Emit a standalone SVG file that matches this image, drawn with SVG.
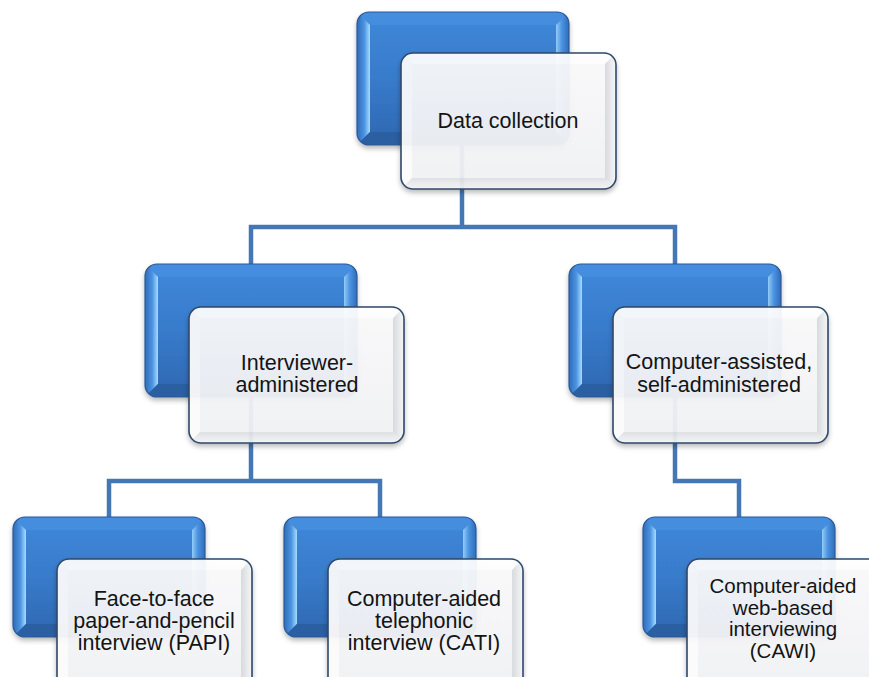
<svg xmlns="http://www.w3.org/2000/svg" xmlns:xlink="http://www.w3.org/1999/xlink" width="869" height="677" viewBox="0 0 869 677">
  <style>
    .lbl { font-family: "Liberation Sans", Arial, sans-serif; font-size: 21.5px; fill: #141414; text-anchor: middle; }
    .lbl.tight { font-size: 20.5px; }
    .link { fill: none; stroke: #4677b5; stroke-width: 4.5; stroke-linejoin: miter; }
  </style>
  <defs>
    <!-- colours for the blue back plates -->
    <linearGradient id="gBack" x1="0" y1="0" x2="0" y2="1">
      <stop offset="0" stop-color="#3f88da"/>
      <stop offset="0.5" stop-color="#387bcb"/>
      <stop offset="1" stop-color="#2d67b0"/>
    </linearGradient>
    <linearGradient id="gBackL" x1="0" y1="0" x2="1" y2="0">
      <stop offset="0" stop-color="#2f6cba"/>
      <stop offset="0.55" stop-color="#4a92e0"/>
      <stop offset="1" stop-color="#a6dcff"/>
    </linearGradient>
    <linearGradient id="gBackR" x1="1" y1="0" x2="0" y2="0">
      <stop offset="0" stop-color="#2f6cba"/>
      <stop offset="0.55" stop-color="#4a92e0"/>
      <stop offset="1" stop-color="#92ccf8"/>
    </linearGradient>
    <!-- colours for the light front cards -->
    <linearGradient id="gFront" x1="0" y1="0" x2="0" y2="1">
      <stop offset="0" stop-color="#fbfbfc"/>
      <stop offset="1" stop-color="#f2f3f5"/>
    </linearGradient>
    <linearGradient id="gFrontR" x1="1" y1="0" x2="0" y2="0">
      <stop offset="0" stop-color="#f7f8f9"/>
      <stop offset="1" stop-color="#d8dbdf"/>
    </linearGradient>
    <linearGradient id="gFrontB" x1="0" y1="1" x2="0" y2="0">
      <stop offset="0" stop-color="#f6f7f8"/>
      <stop offset="1" stop-color="#e0e2e5"/>
    </linearGradient>

    <filter id="shadow" x="-10%" y="-10%" width="125%" height="130%">
      <feDropShadow dx="0" dy="3" stdDeviation="2.5" flood-color="#000" flood-opacity="0.28"/>
    </filter>

    <clipPath id="cBackL"><rect width="212" height="133" rx="12"/></clipPath>
    <clipPath id="cBackS"><rect width="192" height="120" rx="12"/></clipPath>
    <clipPath id="cFrontL"><rect width="215" height="136" rx="12"/></clipPath>
    <clipPath id="cFrontS"><rect width="195" height="136" rx="12"/></clipPath>

    <!-- large blue plate -->
    <g id="backL">
      <g clip-path="url(#cBackL)">
        <rect width="212" height="133" fill="url(#gBack)"/>
        <polygon points="0,0 212,0 199,13 13,13" fill="#4890e0" opacity="0.7"/>
        <polygon points="0,0 13,13 13,120 0,133" fill="url(#gBackL)"/>
        <polygon points="212,0 199,13 199,120 212,133" fill="url(#gBackR)"/>
        <polygon points="0,133 13,120 199,120 212,133" fill="#2a5ea2"/>
      </g>
      <rect width="212" height="133" rx="12" fill="none" stroke="#2b5a98" stroke-width="1.2"/>
    </g>
    <!-- small blue plate -->
    <g id="backS">
      <g clip-path="url(#cBackS)">
        <rect width="192" height="120" fill="url(#gBack)"/>
        <polygon points="0,0 192,0 179,13 13,13" fill="#4890e0" opacity="0.7"/>
        <polygon points="0,0 13,13 13,107 0,120" fill="url(#gBackL)"/>
        <polygon points="192,0 179,13 179,107 192,120" fill="url(#gBackR)"/>
        <polygon points="0,120 13,107 179,107 192,120" fill="#2a5ea2"/>
      </g>
      <rect width="192" height="120" rx="12" fill="none" stroke="#2b5a98" stroke-width="1.2"/>
    </g>
    <!-- large light card -->
    <g id="frontL">
      <g clip-path="url(#cFrontL)" opacity="0.93">
        <rect width="215" height="136" fill="url(#gFront)"/>
        <polygon points="0,0 215,0 204,11 11,11" fill="#ffffff"/>
        <polygon points="0,0 11,11 11,125 0,136" fill="#fdfdfd"/>
        <polygon points="215,0 204,11 204,125 215,136" fill="url(#gFrontR)"/>
        <polygon points="0,136 11,125 204,125 215,136" fill="url(#gFrontB)"/>
      </g>
      <rect width="215" height="136" rx="12" fill="none" stroke="#2f486a" stroke-width="1.6"/>
    </g>
    <!-- small light card -->
    <g id="frontS">
      <g clip-path="url(#cFrontS)" opacity="0.93">
        <rect width="195" height="136" fill="url(#gFront)"/>
        <polygon points="0,0 195,0 184,11 11,11" fill="#ffffff"/>
        <polygon points="0,0 11,11 11,125 0,136" fill="#fdfdfd"/>
        <polygon points="195,0 184,11 184,125 195,136" fill="url(#gFrontR)"/>
        <polygon points="0,136 11,125 184,125 195,136" fill="url(#gFrontB)"/>
      </g>
      <rect width="195" height="136" rx="12" fill="none" stroke="#2f486a" stroke-width="1.6"/>
    </g>
  </defs>

  <rect width="869" height="677" fill="#ffffff"/>

  <!-- connectors -->
  <g id="connectors">
    <path class="link" d="M462,145 V227 M251,264 V227 H675 V264"/>
    <path class="link" d="M251,397 V481 M109,517 V481 H380 V517"/>
    <path class="link" d="M675,397 V481 H739 V517"/>
  </g>

  <g id="node-data-collection">
    <use xlink:href="#backL" x="357" y="12" filter="url(#shadow)"/>
    <use xlink:href="#frontL" x="401" y="53" filter="url(#shadow)"/>
    <text class="lbl" x="508" y="128">Data collection</text>
  </g>

  <g id="node-interviewer">
    <use xlink:href="#backL" x="145" y="264" filter="url(#shadow)"/>
    <use xlink:href="#frontL" x="189" y="307" filter="url(#shadow)"/>
    <text class="lbl" x="297" y="370">Interviewer-</text>
    <text class="lbl" x="297" y="392">administered</text>
  </g>

  <g id="node-self-administered">
    <use xlink:href="#backL" x="569" y="264" filter="url(#shadow)"/>
    <use xlink:href="#frontL" x="613" y="307" filter="url(#shadow)"/>
    <text class="lbl" x="719" y="369">Computer-assisted,</text>
    <text class="lbl" x="719" y="392">self-administered</text>
  </g>

  <g id="node-papi">
    <use xlink:href="#backS" x="13" y="517" filter="url(#shadow)"/>
    <use xlink:href="#frontS" x="57" y="559" filter="url(#shadow)"/>
    <text class="lbl" x="154" y="606">Face-to-face</text>
    <text class="lbl" x="154" y="628">paper-and-pencil</text>
    <text class="lbl" x="154" y="650">interview (PAPI)</text>
  </g>

  <g id="node-cati">
    <use xlink:href="#backS" x="284" y="517" filter="url(#shadow)"/>
    <use xlink:href="#frontS" x="328" y="559" filter="url(#shadow)"/>
    <text class="lbl" x="424" y="606">Computer-aided</text>
    <text class="lbl" x="424" y="628">telephonic</text>
    <text class="lbl" x="424" y="650">interview (CATI)</text>
  </g>

  <g id="node-cawi">
    <use xlink:href="#backS" x="643" y="517" filter="url(#shadow)"/>
    <use xlink:href="#frontS" x="687" y="559" filter="url(#shadow)"/>
    <text class="lbl tight" x="783" y="593">Computer-aided</text>
    <text class="lbl tight" x="783" y="614.5">web-based</text>
    <text class="lbl tight" x="783" y="636">interviewing</text>
    <text class="lbl tight" x="783" y="657.5">(CAWI)</text>
  </g>
</svg>
